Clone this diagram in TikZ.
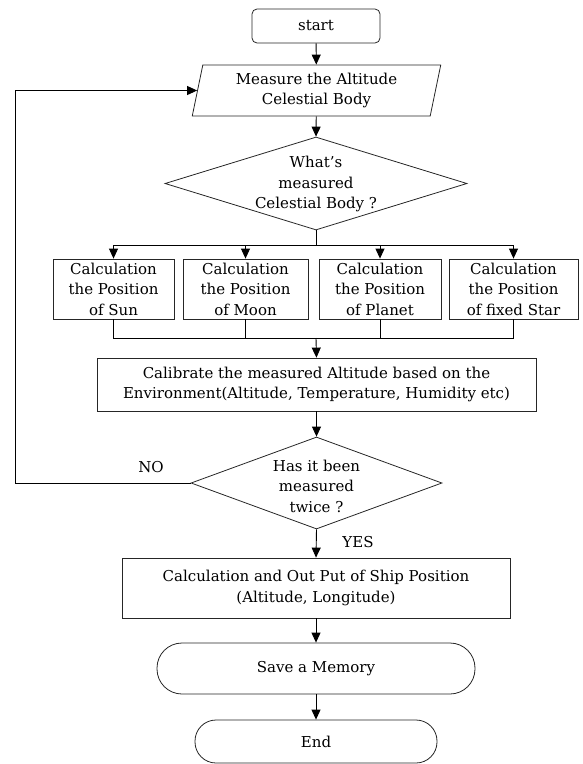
\documentclass[tikz,border=0pt]{standalone}
\usepackage{fontspec}
\setmainfont{DejaVu Serif}
\usetikzlibrary{shapes.geometric,arrows.meta}
\newcommand{\myfs}{\fontsize{15}{20.5}\selectfont}
\begin{document}
\begin{tikzpicture}[x=1pt,y=-1pt,
  box/.style={draw=black!85, line width=0.8pt, inner sep=0pt, align=center, font=\myfs},
  txt/.style={inner sep=0pt, align=center, font=\myfs},
  ar/.style={-{Triangle[length=10pt,width=9pt]}, line width=0.9pt},
  ln/.style={line width=0.9pt}]
\useasboundingbox (0,0) rectangle (582,764);
\node[box, rounded corners=5pt, minimum width=128pt, minimum height=34pt] (start) at (316,26) {start};
\node[box, trapezium, trapezium left angle=78, trapezium right angle=102, trapezium stretches=true, minimum width=249pt, minimum height=51pt] (meas) at (316.5,90.5) {Measure the Altitude\\Celestial Body};
\node[box, diamond, minimum width=302pt, minimum height=93pt] (d1) at (316,183.5) {};
\node[txt] (d1t) at (316,184) {What{\char"0027}s\\measured\\Celestial Body ?};
\node[box, minimum width=121pt, minimum height=60pt] (c1) at (113.5,289) {Calculation\\the Position\\of Sun};
\node[box, minimum width=125pt, minimum height=60pt] (c2) at (245.5,289) {Calculation\\the Position\\of Moon};
\node[box, minimum width=122pt, minimum height=60pt] (c3) at (380,289) {Calculation\\the Position\\of Planet};
\node[box, minimum width=129pt, minimum height=60pt] (c4) at (513.5,289) {Calculation\\the Position\\of fixed Star};
\node[box, minimum width=439pt, minimum height=53pt] (cal) at (316.5,384.5) {Calibrate the measured Altitude based on the\\Environment(Altitude, Temperature, Humidity etc)};
\node[box, diamond, minimum width=251pt, minimum height=92pt] (d2) at (316.5,483) {};
\node[txt] (d2t) at (316.5,486) {Has it been\\measured\\twice ?};
\node[box, minimum width=388pt, minimum height=60pt] (out) at (316,588) {Calculation and Out Put of Ship Position\\(Altitude, Longitude)};
\node[box, rounded corners=25pt, minimum width=318pt, minimum height=51pt] (save) at (316,668.5) {Save a Memory};
\node[box, rounded corners=21pt, minimum width=242pt, minimum height=43pt] (end) at (316,741.5) {End};
\node[txt] (no) at (151,467) {NO};
\node[txt] (yes) at (358,542) {YES};
\coordinate (br) at (316,245);
\coordinate (mg) at (316,338);
\coordinate (lp) at (15,483);
\draw[ar] (start) -- (meas);
\draw[ar] (meas) -- (d1.north);
\draw[ln] (d1.south) -- (br);
\draw[ln] (c1.north |- br) -- (c4.north |- br);
\draw[ar] (c1.north |- br) -- (c1.north);
\draw[ar] (c2.north |- br) -- (c2.north);
\draw[ar] (c3.north |- br) -- (c3.north);
\draw[ar] (c4.north |- br) -- (c4.north);
\draw[ln] (c1.south) -- (c1.south |- mg) -- (c4.south |- mg) -- (c4.south);
\draw[ln] (c2.south) -- (c2.south |- mg);
\draw[ln] (c3.south) -- (c3.south |- mg);
\draw[ar] (mg) -- (cal.north);
\draw[ar] (cal) -- (d2.north);
\draw[ar] (d2.south) -- (out.north);
\draw[ar] (out) -- (save);
\draw[ar] (save) -- (end);
\draw[ar] (d2.west) -- (lp) -- (lp |- meas.left side) -- (meas.left side);
\end{tikzpicture}
\end{document}
